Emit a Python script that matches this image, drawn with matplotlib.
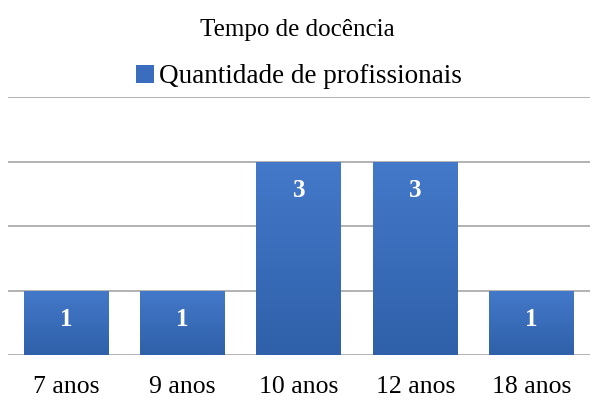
import matplotlib.pyplot as plt
import numpy as np
from matplotlib.colors import LinearSegmentedColormap

categorias = ['7 anos', '9 anos', '10 anos', '12 anos', '18 anos']
quantidade = [1, 1, 3, 3, 1]

plt.rcParams['font.family'] = ['Liberation Serif', 'DejaVu Serif']

fig = plt.figure(figsize=(5.94, 4.01), dpi=100)
ax = fig.add_axes([0.0135, 0.1147, 0.9795, 0.6433])

x = np.arange(len(categorias))
bars = ax.bar(x, quantidade, width=0.73, color='#3a6dbd', zorder=3,
              label='Quantidade de profissionais')

# gradiente vertical dentro de cada barra
cmap = LinearSegmentedColormap.from_list('g', ['#2f60a9', '#4479ca'])
grad = np.linspace(0, 1, 256).reshape(-1, 1)
for b in bars:
    x0, y0 = b.get_x(), b.get_y()
    im = ax.imshow(grad, cmap=cmap, origin='lower', aspect='auto',
                   extent=[x0, x0 + b.get_width(), y0, y0 + b.get_height()],
                   zorder=3.5)
    im.set_clip_path(b)

for b, v in zip(bars, quantidade):
    ax.text(b.get_x() + b.get_width() / 2, v - 0.45, str(v), ha='center',
            va='center', color='white', fontsize=18, fontweight='bold', zorder=5)

ax.set_xlim(-0.5, len(categorias) - 0.5)
ax.set_ylim(0, 4)
ax.set_yticks([0, 1, 2, 3, 4])
ax.yaxis.grid(True, color='#a6a6a6', linewidth=1.2, zorder=0)
ax.set_yticklabels([])
ax.tick_params(axis='y', length=0)
ax.tick_params(axis='x', length=0, labelsize=18.5, pad=15)
ax.set_xticks(x)
ax.set_xticklabels(categorias)
for s in ax.spines.values():
    s.set_visible(False)

fig.text(0.5, 0.925, 'Tempo de docência', ha='center', va='center', fontsize=18)
leg = ax.legend(loc='center', bbox_to_anchor=(0.5, 1.078), frameon=False,
                fontsize=19.5, handlelength=0.65, handleheight=0.65,
                handletextpad=0.2, borderpad=0)

fig.savefig('out.png', dpi=100)
